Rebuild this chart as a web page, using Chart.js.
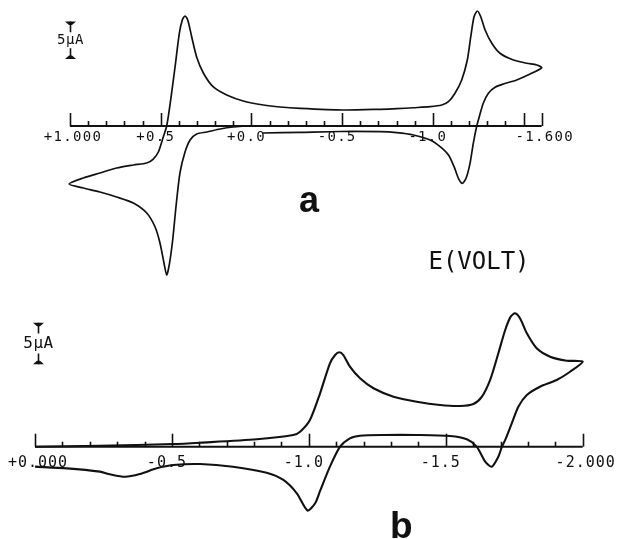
<!DOCTYPE html>
<html>
<head>
<meta charset="utf-8">
<script src="https://cdn.jsdelivr.net/npm/chart.js@4.4.0/dist/chart.umd.min.js"></script>
<style>
    body { margin: 0; background: #fff; }
    #wrap { position: relative; width: 618px; height: 539px; }
    canvas { position: absolute; left: 0; }
</style>
</head>
<body>
<div id="wrap">
    <canvas id="cvA" width="618" height="290" style="top:0"></canvas>
    <canvas id="cvB" width="618" height="249" style="top:290px"></canvas>
</div>
<script>
// --- voltammogram a: potential (V) and current (uA), in scan order
const potentialA = [
    -0.064, -0.268, -0.488, -0.709, -0.801, -0.893, -0.985, -1.040, -1.086, -1.117,
    -1.141, -1.163, -1.183, -1.205, -1.223, -1.242, -1.256, -1.278, -1.306, -1.343,
    -1.389, -1.462, -1.536, -1.600, -1.573, -1.518, -1.444, -1.370, -1.325, -1.288,
    -1.264, -1.245, -1.227, -1.209, -1.190, -1.159, -1.122, -1.086, -1.049, -0.985,
    -0.893, -0.801, -0.709, -0.505, -0.268, -0.158, -0.066, 0.045, 0.136, 0.210,
    0.265, 0.302, 0.329, 0.351, 0.366, 0.381, 0.397, 0.421, 0.445, 0.467,
    0.486, 0.513, 0.541, 0.577, 0.651, 0.743, 0.835, 0.927, 1.005, 0.927,
    0.835, 0.743, 0.651, 0.577, 0.531, 0.504, 0.482, 0.467, 0.453, 0.434,
    0.416, 0.394, 0.366, 0.338, 0.302, 0.246, 0.173, 0.101, 0.026
];
const currentA = [
    -0.93, -0.84, -0.73, -0.76, -0.89, -1.20, -1.86, -2.75, -3.86, -5.41,
    -6.95, -7.62, -6.95, -4.96, -2.30, 0.00, 1.24, 3.02, 4.35, 5.15,
    5.59, 6.12, 6.91, 7.75, 8.11, 8.34, 8.78, 9.67, 11.00, 12.77,
    14.53, 15.29, 14.53, 11.88, 8.78, 6.12, 4.35, 3.23, 2.79, 2.57,
    2.43, 2.30, 2.22, 2.13, 2.35, 2.53, 2.79, 3.32, 4.12, 5.19,
    7.05, 9.18, 11.84, 14.10, 14.63, 14.10, 12.37, 7.85, 3.46, 0.00,
    -1.46, -3.46, -4.39, -4.92, -5.19, -5.59, -6.25, -6.91, -7.71, -8.24,
    -8.78, -9.44, -10.24, -11.57, -13.43, -15.56, -18.22, -19.81, -18.48, -15.16,
    -10.77, -6.25, -3.46, -1.86, -1.06, -0.80, -0.40, -0.13, 0.00
];
const tickValuesA = [1.0, 0.5, 0.0, -0.5, -1.0, -1.6];
const tickLabelsA = ['+1.000', '+0.5', '+0.0', '-0.5', '-1.0', '-1.600'];

// --- voltammogram b
const potentialB = [
    0.000, -0.116, -0.237, -0.274, -0.329, -0.383, -0.444, -0.505, -0.603, -0.723,
    -0.846, -0.907, -0.956, -0.995, -1.023, -1.041, -1.077, -1.114, -1.150, -1.187,
    -1.272, -1.394, -1.516, -1.577, -1.613, -1.644, -1.668, -1.692, -1.705, -1.717,
    -1.741, -1.765, -1.796, -1.844, -1.905, -1.954, -2.000, -1.942, -1.881, -1.832,
    -1.796, -1.771, -1.753, -1.737, -1.717, -1.692, -1.662, -1.632, -1.601, -1.552,
    -1.479, -1.394, -1.309, -1.236, -1.187, -1.150, -1.126, -1.111, -1.096, -1.077,
    -1.041, -1.004, -0.968, -0.943, -0.810, -0.603, -0.504, -0.237, 0.000
];
const currentB = [
    -2.40, -2.60, -3.00, -3.32, -3.61, -3.28, -2.60, -2.20, -2.08, -2.40,
    -3.13, -4.00, -5.60, -7.67, -6.80, -5.32, -2.40, 0.00, 1.01, 1.32,
    1.41, 1.41, 1.29, 0.89, 0.00, -1.80, -2.40, -1.20, 0.00, 0.81,
    2.81, 4.81, 6.21, 7.21, 8.02, 9.01, 10.22, 10.34, 10.82, 11.83,
    13.63, 15.43, 16.03, 15.63, 14.03, 11.23, 8.02, 6.01, 5.13, 4.89,
    5.01, 5.41, 6.01, 7.02, 8.22, 9.62, 11.02, 11.35, 11.02, 10.02,
    6.42, 3.21, 1.80, 1.41, 0.89, 0.48, 0.32, 0.12, 0.00
];
const tickValuesB = [0.0, -0.5, -1.0, -1.5, -2.0];
const tickLabelsB = ['+0.000', '-0.5', '-1.0', '-1.5', '-2.000'];

const INK = '#111';
const MONO = '"DejaVu Sans Mono", "Liberation Mono", monospace';

// axis drawn on the zero-current line, ticks every 0.1 V pointing up
const voltAxis = {
    id: 'voltAxis',
    beforeDatasetsDraw(chart, args, o) {
        const { ctx, scales: { x, y } } = chart;
        const y0 = y.getPixelForValue(0);
        ctx.save();
        ctx.strokeStyle = INK;
        ctx.lineWidth = 2;
        ctx.beginPath();
        ctx.moveTo(x.getPixelForValue(x.max), y0);
        ctx.lineTo(x.getPixelForValue(x.min), y0);
        ctx.stroke();

        ctx.lineWidth = 1.6;
        const n = Math.round((x.max - x.min) / 0.1);
        for (let k = 0; k <= n; k++) {
            const v = x.min + k * 0.1;
            const major = k === 0 || k === n || Math.abs(v * 2 - Math.round(v * 2)) < 1e-6;
            const px = Math.round(x.getPixelForValue(v)) + 0.5;
            ctx.beginPath();
            ctx.moveTo(px, y0);
            ctx.lineTo(px, y0 - (major ? 13 : 5));
            ctx.stroke();
        }

        ctx.fillStyle = INK;
        ctx.font = o.font;
        ctx.letterSpacing = o.spacing;
        ctx.textAlign = 'center';
        ctx.textBaseline = 'middle';
        const last = o.values.length - 1;
        o.values.forEach((v, i) => {
            const dx = (i === 0 || i === last) ? 3 : -5;
            ctx.fillText(o.labels[i], x.getPixelForValue(v) + dx, y0 + o.gap);
        });
        ctx.restore();
    },
    afterDraw(chart, args, o) {
        const { ctx, scales: { x, y } } = chart;
        const bar = o.bar;
        const cx = Math.round(x.getPixelForValue(bar.at)) + 0.5;
        const top = y.getPixelForValue(bar.from + bar.length);
        const bottom = y.getPixelForValue(bar.from);
        const mid = (top + bottom) / 2;
        ctx.save();
        ctx.strokeStyle = INK;
        ctx.fillStyle = INK;
        ctx.lineWidth = 1.6;
        ctx.beginPath();
        ctx.moveTo(cx, top); ctx.lineTo(cx, mid - bar.gap);
        ctx.moveTo(cx, mid + bar.gap); ctx.lineTo(cx, bottom);
        ctx.stroke();
        ctx.beginPath();
        ctx.moveTo(cx - 5.5, top); ctx.lineTo(cx + 5.5, top);
        ctx.lineTo(cx + 1.5, top + 3.5); ctx.lineTo(cx - 1.5, top + 3.5);
        ctx.closePath(); ctx.fill();
        ctx.beginPath();
        ctx.moveTo(cx - 5.5, bottom); ctx.lineTo(cx + 5.5, bottom);
        ctx.lineTo(cx + 1.5, bottom - 3.5); ctx.lineTo(cx - 1.5, bottom - 3.5);
        ctx.closePath(); ctx.fill();

        ctx.font = bar.font;
        ctx.letterSpacing = '0.5px';
        ctx.textAlign = 'center';
        ctx.textBaseline = 'middle';
        ctx.fillText('5µA', cx, mid);

        (o.notes || []).forEach(t => {
            ctx.font = t.font;
            ctx.letterSpacing = '0px';
            ctx.textAlign = t.align;
            ctx.textBaseline = 'alphabetic';
            ctx.fillText(t.text, t.x, t.y);
        });
        ctx.restore();
    }
};

function buildCurve(potential, current) {
    return potential.map((e, i) => ({ x: e, y: current[i] }));
}

function createVoltammogram(canvasId, cfg) {
    return new Chart(document.getElementById(canvasId), {
        type: 'scatter',
        data: {
            datasets: [{
                data: buildCurve(cfg.potential, cfg.current),
                showLine: true,
                borderColor: INK,
                borderWidth: cfg.lineWidth,
                pointRadius: 0,
                tension: 0.25,
                clip: false
            }]
        },
        options: {
            responsive: false,
            animation: false,
            layout: { padding: cfg.padding },
            plugins: {
                legend: { display: false },
                tooltip: { enabled: false },
                voltAxis: cfg.axis
            },
            scales: {
                x: { type: 'linear', reverse: true, min: cfg.xRange[0], max: cfg.xRange[1], display: false },
                y: { type: 'linear', min: cfg.yRange[0], max: cfg.yRange[1], display: false }
            }
        },
        plugins: [voltAxis]
    });
}

createVoltammogram('cvA', {
    potential: potentialA,
    current: currentA,
    lineWidth: 1.7,
    xRange: [-1.6, 1.0],
    yRange: [-20, 16],
    padding: { left: 70, right: 76.3, top: 5.68, bottom: 13.6 },
    axis: {
        values: tickValuesA,
        labels: tickLabelsA,
        font: '14px ' + MONO,
        spacing: '1.3px',
        gap: 11,
        bar: { at: 1.0, from: 8.9, length: 5, gap: 8, font: '14px ' + MONO },
        notes: [
            { text: 'a', x: 299, y: 212, align: 'left', font: 'bold 36px "Liberation Sans", Arial, sans-serif' },
            { text: 'E(VOLT)', x: 479, y: 269, align: 'center', font: '24px ' + MONO }
        ]
    }
});

createVoltammogram('cvB', {
    potential: potentialB,
    current: currentB,
    lineWidth: 2.1,
    xRange: [-2.0, 0.0],
    yRange: [-8, 18],
    padding: { left: 35, right: 35.3, top: 6.94, bottom: 25.74 },
    axis: {
        values: tickValuesB,
        labels: tickLabelsB,
        font: '15px ' + MONO,
        spacing: '1px',
        gap: 16,
        bar: { at: -0.01, from: 9.9, length: 5, gap: 10, font: '16px ' + MONO },
        notes: [
            { text: 'b', x: 390, y: 248, align: 'left', font: 'bold 37px "Liberation Sans", Arial, sans-serif' }
        ]
    }
});
</script>
</body>
</html>
